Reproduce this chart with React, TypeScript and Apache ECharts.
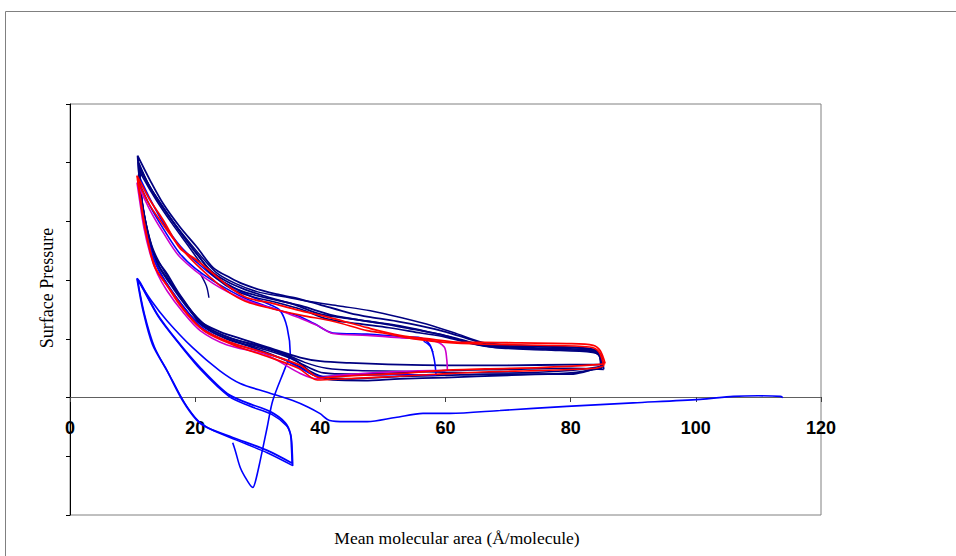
import React, { useEffect, useRef } from "react";
import * as echarts from "echarts";

// x tick labels
const xTicks = [0, 20, 40, 60, 80, 100, 120];

// Navy compression/expansion cycles: [area, pressure]
const navyLoop1 = [
  [85.2, 5.6], [84.6, 7.6], [83.2, 8.3], [78, 8.6], [70, 8.8], [66.5, 9.1], [63.4, 10.1], [60, 11.2], [56, 12.2],
  [52.7, 12.9], [48, 13.7], [44.7, 14.4], [40, 15.8], [36.3, 16.9], [33, 17.6], [30.8, 18.2], [27.5, 19.4],
  [25.6, 20.4], [22.9, 22.1], [20.3, 25.6], [17.6, 29.0], [14.9, 33.0], [12.8, 37.0], [10.8, 41.2],
  [11.1, 37.0], [11.6, 32.5], [12.4, 28.0], [13.6, 24.0], [15.5, 21.1], [17.5, 17.6], [20.8, 13.0], [24, 11.2],
  [28, 9.8], [31.5, 8.6], [36.8, 6.8], [40, 6.2], [44.7, 5.9], [52.7, 5.6], [60, 5.5], [70, 5.5], [80, 5.6], [85.2, 5.6],
];
const navyLoop2 = [
  [85.0, 5.0], [84.5, 7.2], [83, 7.9], [75, 8.3], [67, 8.7], [62, 10.0], [58, 11.0], [52.7, 12.2], [47.5, 13.0],
  [42, 14.0], [37, 15.6], [33, 16.6], [29, 17.6], [26, 18.8], [23, 20.8], [20.5, 24.2], [18, 27.6], [15.5, 31.4],
  [13, 35.4], [11, 39.6],
  [11.3, 35.0], [12, 30.2], [13, 25.6], [14.5, 21.8], [16.5, 18.6], [19, 15.0], [21.5, 12.0], [25, 10.0], [29, 8.6],
  [33, 7.0], [36.8, 5.2], [39, 3.8], [42, 3.0], [47, 2.9], [52.7, 3.2], [60, 3.4], [70, 3.8], [80, 4.2], [85.0, 5.0],
];
const navyLoop3 = [
  [84.8, 5.3], [84.3, 7.8], [82, 8.5], [72, 8.9], [66, 9.4], [62, 10.8], [58, 12.2], [53, 13.6], [48, 14.8],
  [43, 15.6], [38, 16.4], [34, 17.2], [30, 18.0], [26.5, 19.4], [23.5, 21.2], [21, 24.0], [18.5, 27.2], [16, 30.6],
  [13.5, 34.6], [11.2, 38.8],
  [11.4, 34.2], [12.2, 29.4], [13.3, 25.2], [15, 21.6], [17, 18.2], [19.5, 14.6], [22.5, 11.6], [26, 10.0], [30, 8.9],
  [34, 7.6], [37.5, 6.0], [41, 5.0], [46, 4.6], [52.7, 4.5], [60, 4.3], [70, 4.2], [80, 4.6], [84.8, 5.3],
];
const navyLoop4 = [
  [85.1, 5.4], [84.7, 7.4], [83, 8.1], [76, 8.4], [66, 8.9], [63, 9.6], [59, 10.8], [55, 11.6], [50, 12.6],
  [45, 13.4], [40, 14.2], [36, 15.8], [32, 17.0], [28, 18.4], [25, 19.8], [22.5, 21.6], [20, 24.8], [17.5, 28.4],
  [15, 32.2], [12.6, 36.2], [10.9, 40.2],
  [11.2, 36.0], [11.8, 31.5], [12.7, 27.0], [14, 22.8], [16, 19.6], [18.3, 16.2], [21, 12.6], [24.5, 10.6],
  [28.5, 9.2], [32.5, 8.0], [36, 6.4], [38.5, 4.4], [41, 3.4], [45, 3.2], [52.7, 3.6], [60, 3.8], [70, 4.0], [80, 4.0], [85.1, 5.4],
];
const navyLoop5 = [
  [85.3, 4.8], [84.8, 7.0], [83.5, 7.7], [76, 8.1], [68, 8.5], [64, 9.2], [60, 10.3], [56, 11.0], [51, 11.9],
  [46, 12.6], [41, 13.4], [37, 15.0], [33, 16.2], [29, 17.2], [26, 18.4], [23.5, 20.2], [21, 22.8], [18.8, 26.0],
  [16.2, 29.8], [13.8, 33.6], [11.6, 37.6], [11.0, 39.0],
  [11.3, 34.0], [12.0, 29.0], [13.1, 24.4], [14.8, 20.6], [17, 17.0], [19.8, 13.4], [23, 11.0], [27, 9.4], [31, 8.2],
  [35, 6.8], [38, 5.2], [40.5, 4.2], [45, 4.0], [52.7, 4.2], [60, 4.6], [70, 4.8], [80, 5.0], [85.3, 4.8],
];
const navyTail = [[20.8, 21.1], [21.8, 19.0], [22.2, 17.0]];

// Red cycles
const redLoop1 = [
  [85.5, 5.8], [84.7, 8.0], [83.6, 8.9], [79.4, 9.2], [72, 9.3], [66, 9.4], [62.3, 9.4], [58, 9.9], [52.7, 10.6],
  [47.5, 11.9], [42, 13.5], [36.8, 14.8], [32.5, 16.0], [28.3, 17.0], [25.5, 18.8], [22.9, 21.1], [20, 23.6],
  [17.6, 25.4], [14.9, 30.2], [12.8, 33.6], [10.7, 37.8],
  [10.9, 36.5], [11.7, 30.7], [12.8, 25.0], [13.6, 22.1], [15.5, 19.1], [17.6, 15.7], [20.8, 11.9], [25.6, 9.4],
  [31.5, 7.5], [36.8, 5.5], [39.9, 3.4], [44.7, 3.7], [52.7, 4.1], [59.1, 4.6], [67.1, 4.9], [75.1, 5.1], [84.2, 5.6], [85.5, 5.8],
];
const redLoop2 = [
  [85.3, 5.4], [84.5, 7.8], [83, 8.6], [75, 8.9], [66, 9.1], [60, 9.4], [55, 10.0], [50, 11.0], [47.5, 11.4],
  [42, 13.0], [37, 14.0], [32, 15.2], [28, 16.4], [25, 18.2], [22.5, 20.4], [19.5, 23.4], [17, 26.4], [14.5, 30.0],
  [12.5, 33.2], [10.8, 37.0],
  [11.0, 35.6], [11.8, 30.0], [12.9, 24.6], [14, 21.4], [16, 18.4], [18.5, 14.6], [21.5, 11.3], [26, 9.0],
  [31.5, 7.0], [36.5, 5.0], [39.5, 3.0], [44, 3.2], [52, 3.6], [59, 4.0], [67, 4.4], [75, 4.6], [84, 5.0], [85.3, 5.4],
];

// Purple cycle (reversal at 60)
const purpleLoop = [
  [60.3, 4.6], [60.2, 6.5], [59.8, 8.6], [58, 9.7], [52.7, 10.2], [47.5, 10.6], [42, 10.9], [39.5, 12.3],
  [36.8, 13.5], [33.6, 14.8], [28.3, 16.5], [22.9, 19.4], [17.6, 23.9], [14.9, 28.1], [12.8, 31.9], [10.7, 36.6],
  [11.0, 34.5], [11.8, 29.0], [12.8, 24.5], [14, 21.0], [15.5, 18.2], [18, 14.6], [20.8, 11.4], [25, 9.0],
  [31.5, 7.2], [36.8, 4.1], [39.5, 3.2], [42, 3.7], [50, 4.3], [58, 4.6], [60.3, 4.6],
];

// Blue cycles
const blueLoop = [
  [58.5, 3.8], [58.2, 6.5], [57.5, 9.0], [56, 10.2], [52.7, 10.4], [47.5, 10.8], [42, 11.0], [39, 12.6],
  [36.5, 13.9], [33, 15.0], [28, 16.9], [23, 19.8], [20, 22.0], [17.5, 24.6], [15, 28.6], [12.8, 32.6], [10.8, 37.2],
  [11.1, 35.0], [11.9, 29.6], [12.9, 25.2], [14.2, 21.6], [16, 18.6], [18.5, 15.0], [21, 12.0], [25, 9.6],
  [30, 8.0], [34, 6.6], [37.5, 4.6], [40, 3.6], [45, 3.8], [52, 3.9], [58.5, 3.8],
];
const blueTail = [[56.5, 9.6], [57.5, 8.8], [58.0, 7.7]];
const blueDrop = [
  [10.9, 38.0], [12.8, 33.8], [15, 29.6], [17.6, 25.8], [20.3, 23], [23, 20.6], [26, 18.8], [29, 17.2], [32, 15.8],
  [33.6, 14.8], [34.7, 11.9], [35.2, 7.5], [34.4, 5.1], [32.4, -0.5], [31.5, -5.1], [30.4, -10.7], [29.6, -14.4],
  [29.2, -15.3], [28.3, -14.1], [27.2, -11.9], [26.4, -9.0], [26.0, -7.7],
];
const lowLoopA = [
  [10.7, 20.3], [11.7, 14.7], [13.2, 9.0], [15.5, 4.6], [18.0, -0.5], [20.3, -3.9], [21.9, -5.1], [26, -6.8],
  [31.5, -9.0], [35.5, -11.2], [35.4, -8.5], [35.2, -6.1], [34.4, -4.3], [32, -2.4], [28.3, -0.9], [25.1, 0.7],
  [20.8, 5.1], [17.1, 9.7], [13.9, 14.3], [11.2, 19.6], [10.7, 20.3],
];
const lowLoopB = [
  [10.8, 20.0], [11.9, 14.2], [13.5, 8.6], [15.8, 4.0], [18.3, -0.9], [20.6, -4.1], [22.5, -5.4], [26.5, -7.2],
  [31.5, -9.4], [35.6, -11.6], [35.5, -8.8], [35.3, -6.5], [34.6, -4.8], [32.3, -2.9], [28.6, -1.4], [25.4, 0.2],
  [21.0, 4.6], [17.4, 9.2], [14.1, 13.8], [11.4, 19.0], [10.8, 20.0],
];
const lowTail = [
  [10.7, 20.3], [13, 16.5], [15.5, 13.1], [19.6, 8.5], [23.9, 4.6], [27.2, 2.4], [31.5, 0.9], [35.6, -0.5],
  [38, -1.6], [39.9, -2.7], [41.5, -3.9], [44, -4.1], [47.5, -4.1], [52, -3.4], [56.4, -2.7], [60.7, -2.7],
  [68.7, -2.2], [79.4, -1.5], [90, -0.9], [100.7, -0.3], [106, 0.2], [110, 0.3], [113.5, 0.2], [113.9, 0],
];

const NAVY = "#000080";
const RED = "#FF0000";
const PURPLE = "#CC00CC";
const BLUE = "#0000FF";

const seriesDefs = [
  { data: lowLoopA, color: BLUE, width: 1.8 },
  { data: lowLoopB, color: BLUE, width: 1.5 },
  { data: lowTail, color: BLUE, width: 1.6 },
  { data: blueDrop, color: BLUE, width: 1.6 },
  { data: navyLoop1, color: NAVY, width: 1.8 },
  { data: navyLoop2, color: NAVY, width: 1.8 },
  { data: navyLoop3, color: NAVY, width: 1.5 },
  { data: navyLoop4, color: NAVY, width: 1.8 },
  { data: navyLoop5, color: NAVY, width: 1.6 },
  { data: navyTail, color: NAVY, width: 1.4 },
  { data: blueLoop, color: BLUE, width: 1.6 },
  { data: blueTail, color: BLUE, width: 1.4 },
  { data: purpleLoop, color: PURPLE, width: 1.6 },
  { data: redLoop2, color: RED, width: 1.6 },
  { data: redLoop1, color: RED, width: 1.8 },
];

export default function App() {
  const ref = useRef<HTMLDivElement>(null);
  useEffect(() => {
    document.body.style.margin = "0";
    if (!ref.current) return;
    const chart = echarts.init(ref.current, null, { renderer: "svg" });
    const serif = "'Liberation Serif', 'Times New Roman', serif";
    chart.setOption({
      animation: false,
      backgroundColor: "#ffffff",
      grid: {
        left: 70,
        right: 135,
        top: 104,
        bottom: 41,
        show: true,
        borderColor: "#808080",
        borderWidth: 1,
        backgroundColor: "transparent",
        containLabel: false,
        outerBoundsMode: "none",
      },
      xAxis: {
        type: "value",
        min: xTicks[0],
        max: xTicks[xTicks.length - 1],
        interval: 20,
        position: "bottom",
        offset: -118,
        axisLine: { show: true, onZero: false, lineStyle: { color: "#606060", width: 1 } },
        axisTick: { show: true, inside: false, length: 5, lineStyle: { color: "#404040" } },
        axisLabel: {
          show: true,
          color: "#000",
          fontSize: 18,
          fontWeight: "bold",
          fontFamily: "Arial, 'Liberation Sans', sans-serif",
          margin: 22,
          formatter: (v: number) => (xTicks.includes(v) ? String(v) : ""),
        },
        splitLine: { show: false },
      },
      yAxis: {
        type: "value",
        min: -20,
        max: 50,
        interval: 10,
        axisLine: { show: true, onZero: false, lineStyle: { color: "#000", width: 1 } },
        axisTick: { show: true, inside: false, length: 4, lineStyle: { color: "#000" } },
        axisLabel: { show: false },
        splitLine: { show: false },
      },
      graphic: [
        {
          type: "rect",
          silent: true,
          shape: { x: 5.5, y: 11.5, width: 1200, height: 800 },
          style: { fill: "none", stroke: "#808080", lineWidth: 1 },
        },
        {
          type: "text",
          x: 47,
          y: 288,
          rotation: Math.PI / 2,
          style: {
            text: "Surface Pressure",
            font: `18px ${serif}`,
            fill: "#000",
            textAlign: "center",
            textVerticalAlign: "middle",
          },
        },
        {
          type: "text",
          x: 457,
          y: 538,
          style: {
            text: "Mean molecular area (Å/molecule)",
            font: `17.5px ${serif}`,
            fill: "#000",
            textAlign: "center",
            textVerticalAlign: "middle",
          },
        },
      ],
      series: seriesDefs.map((s) => ({
        type: "line",
        data: s.data,
        showSymbol: false,
        symbol: "none",
        smooth: 0.3,
        clip: false,
        silent: true,
        lineStyle: { color: s.color, width: s.width },
        itemStyle: { color: s.color },
      })),
    });
    return () => chart.dispose();
  }, []);
  return <div ref={ref} style={{ width: 956, height: 556 }} />;
}
